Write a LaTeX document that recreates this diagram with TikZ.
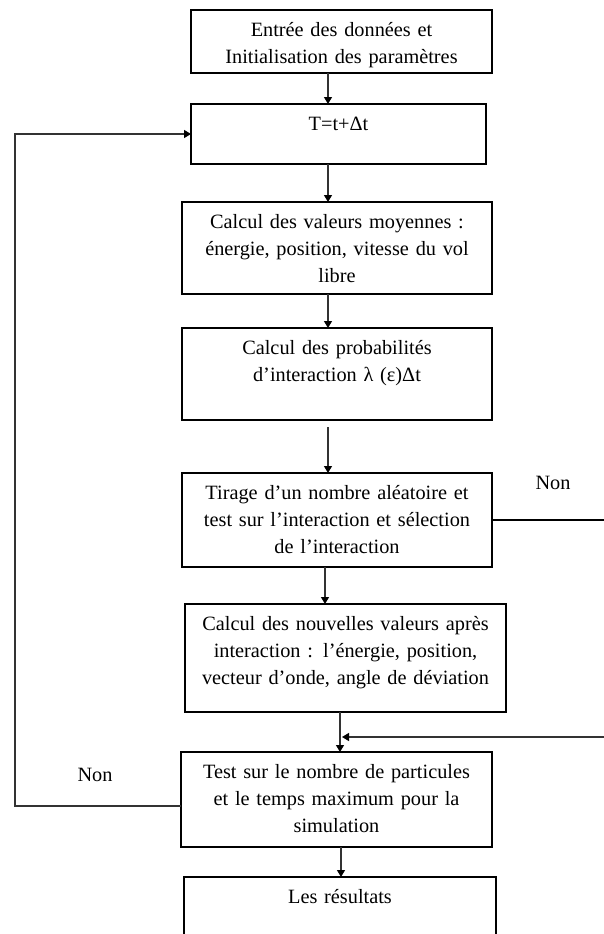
\documentclass[tikz,border=0pt]{standalone}
\usepackage{fontspec}
\setmainfont{Liberation Serif}
\usetikzlibrary{arrows.meta}
\begin{document}
\begin{tikzpicture}[x=1pt,y=-1pt,
  boxnode/.style={draw=black,line width=1.5pt,inner sep=0pt,outer sep=0pt},
  txt/.style={inner sep=0pt,outer sep=0pt,align=center,text width=#1,anchor=north,
    font=\fontsize{20.3}{27}\selectfont},
  txt/.default=300pt,
  lbl/.style={inner sep=0pt,font=\fontsize{20.3}{27}\selectfont},
  conn/.style={draw=black!80,line width=1.2pt},
  arr/.style={conn,-{Triangle[length=7pt,width=8pt,color=black]}}]
\clip (0,0) rectangle (604,934);
% boxes
\node[boxnode,minimum width=301pt,minimum height=63pt] (b1) at (341.5,41.5) {};
\node[boxnode,minimum width=295pt,minimum height=60pt] (b2) at (338.5,134) {};
\node[boxnode,minimum width=310pt,minimum height=92pt] (b3) at (337,248) {};
\node[boxnode,minimum width=310pt,minimum height=92pt] (b4) at (337,374) {};
\node[boxnode,minimum width=310pt,minimum height=94pt] (b5) at (337,520) {};
\node[boxnode,minimum width=321pt,minimum height=108pt] (b6) at (345.5,658) {};
\node[boxnode,minimum width=311pt,minimum height=95pt] (b7) at (336.5,799.5) {};
\node[boxnode,minimum width=312pt,minimum height=80pt] (b8) at (340,917) {};
% texts
\node[txt] (t1) at ([yshift=-7.6pt]b1.north) {\strut Entrée des données et\\Initialisation des paramètres};
\node[txt] (t2) at ([yshift=-7.6pt]b2.north) {\strut T=t+Δt};
\node[txt] (t3) at ([yshift=-7.6pt]b3.north) {\strut Calcul des valeurs moyennes :\\énergie, position, vitesse du vol\\libre};
\node[txt] (t4) at ([yshift=-7.6pt]b4.north) {\strut Calcul des probabilités\\d’interaction λ (ε)Δt};
\node[txt] (t5) at ([yshift=-7.6pt]b5.north) {\strut Tirage d’un nombre aléatoire et\\test sur l’interaction et sélection\\de l’interaction};
\node[txt=315pt] (t6) at ([yshift=-7.6pt]b6.north) {\strut Calcul des nouvelles valeurs après\\interaction : l’énergie, position,\\vecteur d’onde, angle de déviation};
\node[txt] (t7) at ([yshift=-7.6pt]b7.north) {\strut Test sur le nombre de particules\\et le temps maximum pour la\\simulation};
\node[txt] (t8) at ([yshift=-7.6pt]b8.north) {\strut Les résultats};
% labels
\node[lbl] (nonR) at (553,483) {Non};
\node[lbl] (nonL) at (95,775) {Non};
% vertical connectors
\coordinate (c1) at ([xshift=-13.5pt]b1.south);
\draw[arr] (c1) -- (c1 |- b2.north);
\coordinate (c2) at ([xshift=-10.5pt]b2.south);
\draw[arr] (c2) -- (c2 |- b3.north);
\coordinate (c3) at ([xshift=-9pt]b3.south);
\draw[arr] (c3) -- (c3 |- b4.north);
\coordinate (c4) at ([xshift=-9pt,yshift=-7pt]b4.south);
\draw[arr] (c4) -- (c4 |- b5.north);
\coordinate (c5) at ([xshift=-12pt]b5.south);
\draw[arr] (c5) -- (c5 |- b6.north);
\coordinate (c6) at ([xshift=-5.5pt]b6.south);
\draw[arr] (c6) -- (c6 |- b7.north);
\coordinate (c7) at ([xshift=4.5pt]b7.south);
\draw[arr] (c7) -- (c7 |- b8.north);
% right side lines
\coordinate (r1) at (604,520);
\draw[conn,draw=black] (b5.east) -- (r1);
\coordinate (r2) at (604,737);
\coordinate (r2e) at (c6 |- r2);
\draw[arr] (r2) -- ([xshift=2pt]r2e);
% left loop
\coordinate (l0) at ([yshift=-6.5pt]b7.west);
\coordinate (lx) at (15,806);
\draw[arr] (l0) -- (lx) |- (b2.west);
\end{tikzpicture}
\end{document}
